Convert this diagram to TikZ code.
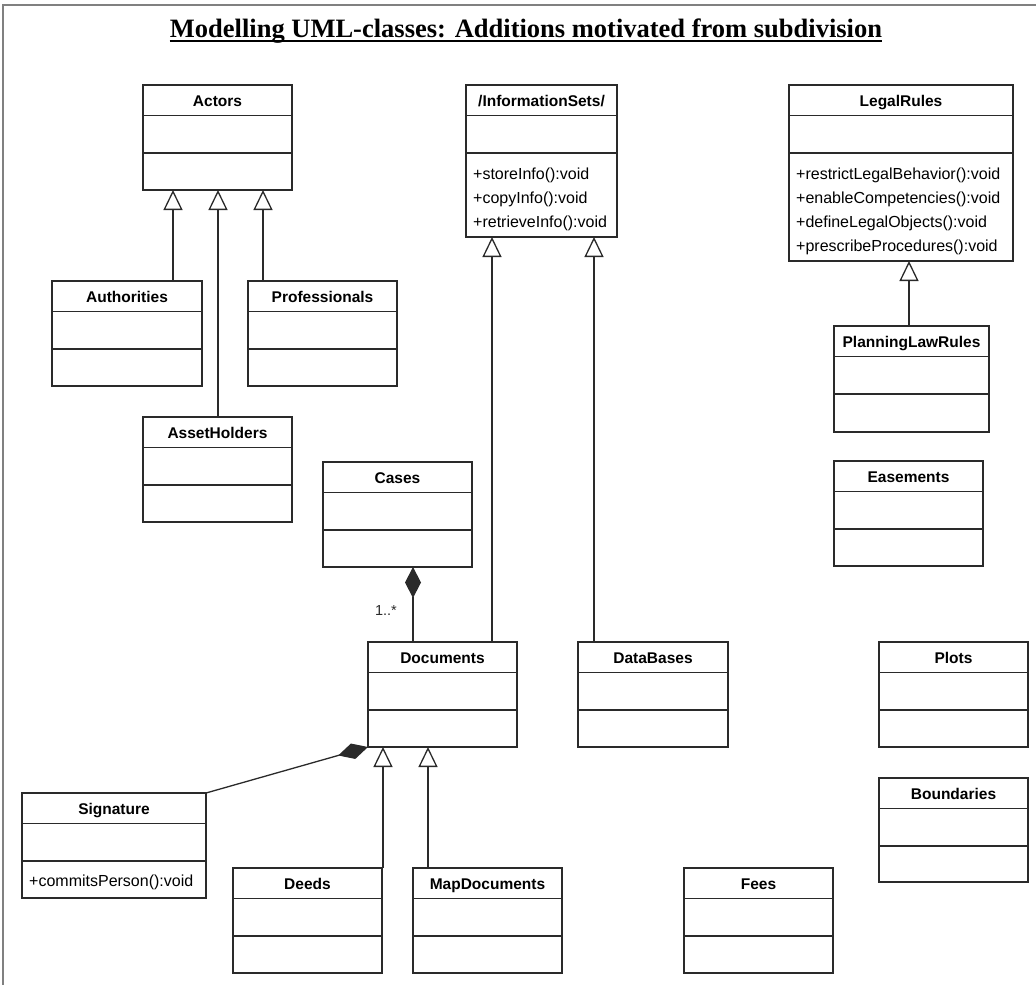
\documentclass[tikz,border=0pt]{standalone}
\usepackage{fontspec}
\setmainfont{Liberation Serif}
\newfontfamily\umlfont{Liberation Sans}
\usetikzlibrary{arrows.meta}
\definecolor{lineC}{HTML}{2A2A2A}
\definecolor{frameC}{HTML}{808080}
\tikzset{
  cls/.style={draw=lineC, line width=1.3pt, fill=white, inner sep=0pt, outer sep=0pt, rectangle},
  divider/.style={draw=lineC, line width=1.3pt},
  clsname/.style={font=\umlfont\bfseries\fontsize{15.5}{18}\selectfont, inner sep=0pt, anchor=base},
  meth/.style={font=\umlfont\fontsize{16}{19}\selectfont, inner sep=0pt, anchor=base west},
  gen/.style={draw=lineC, line width=1.3pt, line join=miter, -{Triangle[open, length=20pt, width=19pt]}},
  comp/.style={draw=lineC, line width=1.3pt, line join=miter, -{Diamond[length=31pt, width=16pt, fill=lineC]}},
  titlestyle/.style={font=\bfseries\fontsize{26.5}{30}\selectfont, inner sep=0pt, anchor=base},
  multstyle/.style={font=\umlfont\fontsize{14.5}{17}\selectfont, inner sep=0pt, text=lineC},
}
\newcommand{\umlclass}[6]{%
  \node[cls, minimum width=#4pt, minimum height=#5pt, anchor=north west] (#1) at (#2,#3) {};
  \draw[divider] ([yshift=-30.5pt]#1.north west) -- ([yshift=-30.5pt]#1.north east);
  \draw[divider] ([yshift=-68pt]#1.north west) -- ([yshift=-68pt]#1.north east);
  \node[clsname] (#1-name) at ([yshift=-21pt]#1.north) {#6};
}
\begin{document}
\begin{tikzpicture}[x=1pt, y=-1pt]
\useasboundingbox (0,0) rectangle (1036,985);
% frame
\draw[frameC, line width=1.5pt] (3,985) -- (3,5) -- (1036,5);
% title
\node[titlestyle] (title) at (526,37) {Modelling UML-classes: Additions motivated from subdivision};
\draw[line width=2pt] ([yshift=-4pt]title.base west) -- ([yshift=-4pt]title.base east);

% classes
\umlclass{Actors}{143}{85}{149}{105}{Actors}
\umlclass{InfoSets}{466}{85}{151}{152}{/InformationSets/}
\umlclass{LegalRules}{789}{85}{224}{176}{LegalRules}
\umlclass{Authorities}{52}{281}{150}{105}{Authorities}
\umlclass{Professionals}{248}{281}{149}{105}{Professionals}
\umlclass{AssetHolders}{143}{417}{149}{105}{AssetHolders}
\umlclass{Cases}{323}{462}{149}{105}{Cases}
\umlclass{PlanningLawRules}{834}{326}{155}{106}{PlanningLawRules}
\umlclass{Easements}{834}{461}{149}{105}{Easements}
\umlclass{Documents}{368}{642}{149}{105}{Documents}
\umlclass{DataBases}{578}{642}{150}{105}{DataBases}
\umlclass{Plots}{879}{642}{149}{105}{Plots}
\umlclass{Boundaries}{879}{778}{149}{104}{Boundaries}
\umlclass{Signature}{22}{793}{184}{105}{Signature}
\umlclass{Deeds}{233}{868}{149}{105}{Deeds}
\umlclass{MapDocuments}{413}{868}{149}{105}{MapDocuments}
\umlclass{Fees}{684}{868}{149}{105}{Fees}

% methods
\node[meth] (info-m1) at ([xshift=7pt,yshift=-94pt]InfoSets.north west) {+storeInfo():void};
\node[meth] (info-m2) at ([xshift=7pt,yshift=-118pt]InfoSets.north west) {+copyInfo():void};
\node[meth] (info-m3) at ([xshift=7pt,yshift=-142pt]InfoSets.north west) {+retrieveInfo():void};
\node[meth] (legal-m1) at ([xshift=7pt,yshift=-94pt]LegalRules.north west) {+restrictLegalBehavior():void};
\node[meth] (legal-m2) at ([xshift=7pt,yshift=-118pt]LegalRules.north west) {+enableCompetencies():void};
\node[meth] (legal-m3) at ([xshift=7pt,yshift=-142pt]LegalRules.north west) {+defineLegalObjects():void};
\node[meth] (legal-m4) at ([xshift=7pt,yshift=-166pt]LegalRules.north west) {+prescribeProcedures():void};
\node[meth] (sig-m1) at ([xshift=7pt,yshift=-93pt]Signature.north west) {+commitsPerson():void};

% connector x positions
\coordinate (xA1) at (173,0);
\coordinate (xA2) at (218,0);
\coordinate (xA3) at (263,0);
\coordinate (xI1) at (492,0);
\coordinate (xI2) at (594,0);
\coordinate (xL) at (909,0);
\coordinate (xC) at (413,0);
\coordinate (xD1) at (383,0);
\coordinate (xD2) at (428,0);

% generalizations
\draw[gen] (Authorities.north -| xA1) -- (Actors.south -| xA1);
\draw[gen] (AssetHolders.north -| xA2) -- (Actors.south -| xA2);
\draw[gen] (Professionals.north -| xA3) -- (Actors.south -| xA3);
\draw[gen] (Documents.north -| xI1) -- (InfoSets.south -| xI1);
\draw[gen] (DataBases.north -| xI2) -- (InfoSets.south -| xI2);
\draw[gen] (PlanningLawRules.north -| xL) -- (LegalRules.south -| xL);
\draw[gen] (Deeds.north -| xD1) -- (Documents.south -| xD1);
\draw[gen] (MapDocuments.north -| xD2) -- (Documents.south -| xD2);

% compositions
\draw[comp] (Documents.north -| xC) -- (Cases.south -| xC);
\draw[comp] (Signature.north east) -- (Documents.south west);
\node[multstyle] (mult) at (386,611) {1..*};
\end{tikzpicture}
\end{document}
